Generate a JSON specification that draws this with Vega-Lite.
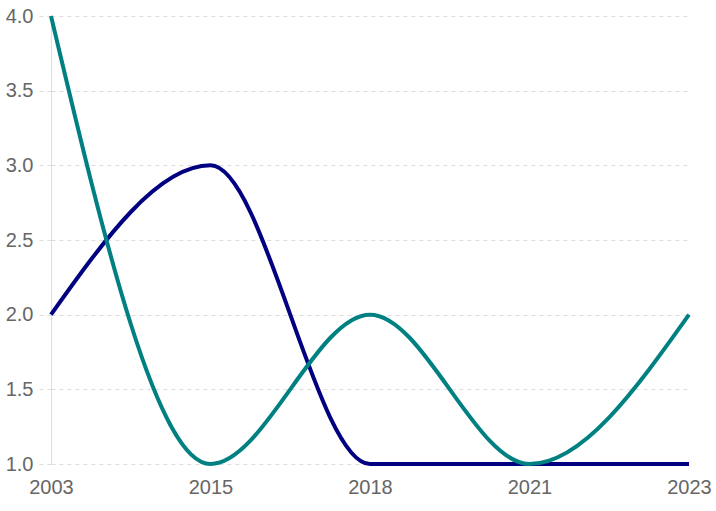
{
  "$schema": "https://vega.github.io/schema/vega-lite/v6.json",
  "width": 638,
  "height": 448,
  "autosize": "none",
  "padding": {"left": 51, "top": 16, "right": 27, "bottom": 47},
  "background": "white",
  "config": {"view": {"stroke": null}, "font": "Liberation Sans"},
  "data": {"values": [
    {"year": "2003", "series": "A", "value": 2},
    {"year": "2015", "series": "A", "value": 3},
    {"year": "2018", "series": "A", "value": 1},
    {"year": "2021", "series": "A", "value": 1},
    {"year": "2023", "series": "A", "value": 1},
    {"year": "2003", "series": "B", "value": 4},
    {"year": "2015", "series": "B", "value": 1},
    {"year": "2018", "series": "B", "value": 2},
    {"year": "2021", "series": "B", "value": 1},
    {"year": "2023", "series": "B", "value": 2}
  ]},
  "mark": {"type": "line", "interpolate": "monotone", "strokeWidth": 4, "clip": false},
  "encoding": {
    "x": {"field": "year", "type": "ordinal", "scale": {"type": "point", "padding": 0},
      "axis": {"title": null, "labelAngle": 0, "domain": false, "ticks": false, "labelFontSize": 20, "labelColor": "#666666", "labelPadding": 13, "grid": false}},
    "y": {"field": "value", "type": "quantitative", "scale": {"domain": [1, 4], "nice": false, "zero": false},
      "axis": {"title": null, "values": [1, 1.5, 2, 2.5, 3, 3.5, 4], "format": ".1f", "domainColor": "#dddddd", "tickColor": "#dddddd", "tickSize": 13, "tickDash": [4, 4], "gridColor": "#dddddd", "gridDash": [4, 4], "labelFontSize": 20, "labelColor": "#666666", "labelPadding": 5}},
    "color": {"field": "series", "type": "nominal", "scale": {"domain": ["A", "B"], "range": ["#000080", "#008080"]}, "legend": null}
  }
}
